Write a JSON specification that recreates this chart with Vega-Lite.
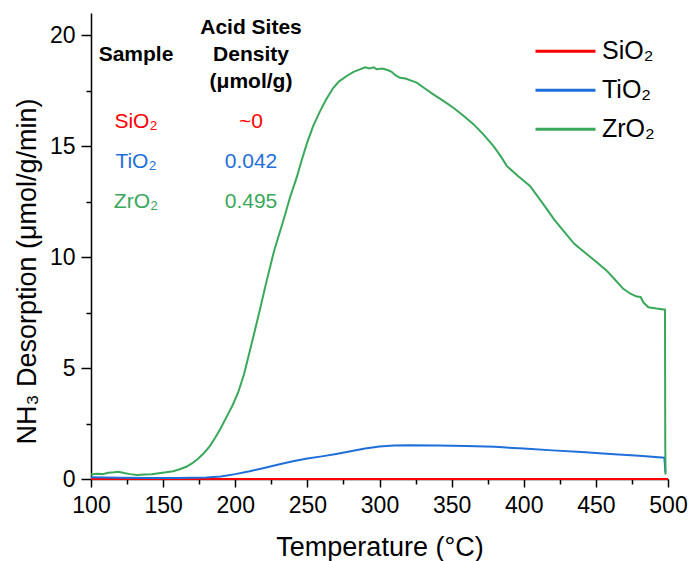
{
  "$schema": "https://vega.github.io/schema/vega-lite/v6.json",
  "width": 577,
  "height": 466,
  "autosize": "none",
  "padding": {"left": 91, "top": 13, "right": 21, "bottom": 82},
  "background": "white",
  "config": {
    "view": {"stroke": null},
    "font": "Liberation Sans",
    "axis": {
      "grid": false,
      "domainColor": "black",
      "domainWidth": 1.5,
      "tickColor": "black",
      "tickWidth": 1.5,
      "labelColor": "black",
      "labelFont": "Liberation Sans",
      "labelFontSize": 23,
      "titleColor": "black",
      "titleFont": "Liberation Sans",
      "titleFontWeight": "normal",
      "labelOverlap": false,
      "labelFlush": false
    }
  },
  "datasets": {
    "tpd": [
      {"sample": "SiO₂", "T": 100, "v": 0},
      {"sample": "SiO₂", "T": 300, "v": 0},
      {"sample": "SiO₂", "T": 500, "v": 0},

      {"sample": "TiO₂", "T": 100, "v": 0.08},
      {"sample": "TiO₂", "T": 120, "v": 0.06},
      {"sample": "TiO₂", "T": 140, "v": 0.05},
      {"sample": "TiO₂", "T": 160, "v": 0.05},
      {"sample": "TiO₂", "T": 180, "v": 0.07},
      {"sample": "TiO₂", "T": 190, "v": 0.11},
      {"sample": "TiO₂", "T": 200, "v": 0.22},
      {"sample": "TiO₂", "T": 210, "v": 0.35},
      {"sample": "TiO₂", "T": 220, "v": 0.5},
      {"sample": "TiO₂", "T": 230, "v": 0.65},
      {"sample": "TiO₂", "T": 240, "v": 0.8},
      {"sample": "TiO₂", "T": 250, "v": 0.92},
      {"sample": "TiO₂", "T": 260, "v": 1.02},
      {"sample": "TiO₂", "T": 270, "v": 1.13},
      {"sample": "TiO₂", "T": 280, "v": 1.25},
      {"sample": "TiO₂", "T": 290, "v": 1.37},
      {"sample": "TiO₂", "T": 300, "v": 1.46},
      {"sample": "TiO₂", "T": 310, "v": 1.51},
      {"sample": "TiO₂", "T": 320, "v": 1.52},
      {"sample": "TiO₂", "T": 340, "v": 1.51},
      {"sample": "TiO₂", "T": 360, "v": 1.49},
      {"sample": "TiO₂", "T": 380, "v": 1.45},
      {"sample": "TiO₂", "T": 400, "v": 1.37},
      {"sample": "TiO₂", "T": 420, "v": 1.29},
      {"sample": "TiO₂", "T": 440, "v": 1.22},
      {"sample": "TiO₂", "T": 460, "v": 1.13},
      {"sample": "TiO₂", "T": 480, "v": 1.05},
      {"sample": "TiO₂", "T": 497.5, "v": 0.96},
      {"sample": "TiO₂", "T": 498.2, "v": 0.3},

      {"sample": "ZrO₂", "T": 100, "v": 0.2},
      {"sample": "ZrO₂", "T": 104, "v": 0.24},
      {"sample": "ZrO₂", "T": 108, "v": 0.22},
      {"sample": "ZrO₂", "T": 112, "v": 0.28},
      {"sample": "ZrO₂", "T": 116, "v": 0.3},
      {"sample": "ZrO₂", "T": 119, "v": 0.33},
      {"sample": "ZrO₂", "T": 123, "v": 0.27},
      {"sample": "ZrO₂", "T": 127, "v": 0.22},
      {"sample": "ZrO₂", "T": 132, "v": 0.18},
      {"sample": "ZrO₂", "T": 137, "v": 0.2},
      {"sample": "ZrO₂", "T": 142, "v": 0.21},
      {"sample": "ZrO₂", "T": 147, "v": 0.26},
      {"sample": "ZrO₂", "T": 152, "v": 0.3},
      {"sample": "ZrO₂", "T": 157, "v": 0.35},
      {"sample": "ZrO₂", "T": 162, "v": 0.45},
      {"sample": "ZrO₂", "T": 166, "v": 0.55},
      {"sample": "ZrO₂", "T": 170, "v": 0.7},
      {"sample": "ZrO₂", "T": 174, "v": 0.9},
      {"sample": "ZrO₂", "T": 178, "v": 1.15},
      {"sample": "ZrO₂", "T": 182, "v": 1.45},
      {"sample": "ZrO₂", "T": 186, "v": 1.85},
      {"sample": "ZrO₂", "T": 190, "v": 2.3},
      {"sample": "ZrO₂", "T": 194, "v": 2.8},
      {"sample": "ZrO₂", "T": 198, "v": 3.3},
      {"sample": "ZrO₂", "T": 202, "v": 3.9},
      {"sample": "ZrO₂", "T": 206, "v": 4.7},
      {"sample": "ZrO₂", "T": 212.5, "v": 6.4},
      {"sample": "ZrO₂", "T": 217, "v": 7.6},
      {"sample": "ZrO₂", "T": 221.8, "v": 8.94},
      {"sample": "ZrO₂", "T": 227, "v": 10.3},
      {"sample": "ZrO₂", "T": 233.3, "v": 11.64},
      {"sample": "ZrO₂", "T": 238, "v": 12.7},
      {"sample": "ZrO₂", "T": 242.6, "v": 13.59},
      {"sample": "ZrO₂", "T": 246, "v": 14.35},
      {"sample": "ZrO₂", "T": 249.5, "v": 15.09},
      {"sample": "ZrO₂", "T": 254, "v": 15.9},
      {"sample": "ZrO₂", "T": 258.8, "v": 16.58},
      {"sample": "ZrO₂", "T": 263, "v": 17.1},
      {"sample": "ZrO₂", "T": 268, "v": 17.63},
      {"sample": "ZrO₂", "T": 272, "v": 17.92},
      {"sample": "ZrO₂", "T": 277.3, "v": 18.16},
      {"sample": "ZrO₂", "T": 282, "v": 18.35},
      {"sample": "ZrO₂", "T": 286.5, "v": 18.46},
      {"sample": "ZrO₂", "T": 290, "v": 18.55},
      {"sample": "ZrO₂", "T": 293, "v": 18.5},
      {"sample": "ZrO₂", "T": 296, "v": 18.55},
      {"sample": "ZrO₂", "T": 298, "v": 18.47},
      {"sample": "ZrO₂", "T": 302, "v": 18.5},
      {"sample": "ZrO₂", "T": 306, "v": 18.42},
      {"sample": "ZrO₂", "T": 308.4, "v": 18.35},
      {"sample": "ZrO₂", "T": 311, "v": 18.2},
      {"sample": "ZrO₂", "T": 314.2, "v": 18.08},
      {"sample": "ZrO₂", "T": 318, "v": 18.05},
      {"sample": "ZrO₂", "T": 322, "v": 17.95},
      {"sample": "ZrO₂", "T": 325.8, "v": 17.86},
      {"sample": "ZrO₂", "T": 331, "v": 17.62},
      {"sample": "ZrO₂", "T": 337.3, "v": 17.33},
      {"sample": "ZrO₂", "T": 344, "v": 17.05},
      {"sample": "ZrO₂", "T": 351.2, "v": 16.73},
      {"sample": "ZrO₂", "T": 358, "v": 16.38},
      {"sample": "ZrO₂", "T": 365.1, "v": 15.99},
      {"sample": "ZrO₂", "T": 372, "v": 15.53},
      {"sample": "ZrO₂", "T": 378.9, "v": 15.01},
      {"sample": "ZrO₂", "T": 384, "v": 14.55},
      {"sample": "ZrO₂", "T": 388.2, "v": 14.11},
      {"sample": "ZrO₂", "T": 396, "v": 13.65},
      {"sample": "ZrO₂", "T": 404.3, "v": 13.21},
      {"sample": "ZrO₂", "T": 410, "v": 12.7},
      {"sample": "ZrO₂", "T": 415.9, "v": 12.17},
      {"sample": "ZrO₂", "T": 421, "v": 11.7},
      {"sample": "ZrO₂", "T": 427.4, "v": 11.19},
      {"sample": "ZrO₂", "T": 435, "v": 10.6},
      {"sample": "ZrO₂", "T": 443.6, "v": 10.14},
      {"sample": "ZrO₂", "T": 450, "v": 9.8},
      {"sample": "ZrO₂", "T": 457.5, "v": 9.39},
      {"sample": "ZrO₂", "T": 463, "v": 9.0},
      {"sample": "ZrO₂", "T": 469, "v": 8.57},
      {"sample": "ZrO₂", "T": 474, "v": 8.35},
      {"sample": "ZrO₂", "T": 478.3, "v": 8.22},
      {"sample": "ZrO₂", "T": 481, "v": 8.2},
      {"sample": "ZrO₂", "T": 483, "v": 7.95},
      {"sample": "ZrO₂", "T": 486.4, "v": 7.74},
      {"sample": "ZrO₂", "T": 492, "v": 7.68},
      {"sample": "ZrO₂", "T": 497.9, "v": 7.63},
      {"sample": "ZrO₂", "T": 498.1, "v": 1.5},
      {"sample": "ZrO₂", "T": 498.3, "v": 0.2}
    ],
    "acidity": [
      {"sample": "SiO₂", "density": "~0"},
      {"sample": "TiO₂", "density": "0.042"},
      {"sample": "ZrO₂", "density": "0.495"}
    ],
    "acidityHeader": [
      {"column": "sample", "sample": "header", "head": "\nSample"},
      {"column": "density", "sample": "header", "head": "Acid Sites\nDensity\n(μmol/g)"}
    ]
  },
  "resolve": {"scale": {"x": "independent", "y": "independent"}},
  "layer": [
    {
      "data": {"name": "tpd"},
      "mark": {"type": "line", "strokeWidth": 2},
      "encoding": {
        "x": {
          "field": "T",
          "type": "quantitative",
          "scale": {"domain": [100, 500], "nice": false, "zero": false},
          "axis": {
            "title": "Temperature (°C)",
            "titleFontSize": 27,
            "titlePadding": 17,
            "values": [100, 125, 150, 175, 200, 225, 250, 275, 300, 325, 350, 375, 400, 425, 450, 475, 500],
            "labelExpr": "datum.value % 50 === 0 ? datum.label : ''",
            "tickSize": {"condition": {"test": "datum.value % 50 === 0", "value": 8}, "value": 5},
            "labelPadding": 7
          }
        },
        "y": {
          "field": "v",
          "type": "quantitative",
          "scale": {"domain": [0, 21], "nice": false},
          "axis": {
            "title": "NH₃ Desorption (μmol/g/min)",
            "titleFontSize": 27,
            "titlePadding": 8,
            "titleY": 258,
            "values": [0, 2.5, 5, 7.5, 10, 12.5, 15, 17.5, 20],
            "labelExpr": "datum.value % 5 === 0 ? datum.label : ''",
            "tickSize": {"condition": {"test": "datum.value % 5 === 0", "value": 10}, "value": 5},
            "labelPadding": 6
          }
        },
        "color": {
          "field": "sample",
          "type": "nominal",
          "scale": {"domain": ["SiO₂", "TiO₂", "ZrO₂"], "range": ["#FF0000", "#1F6FDA", "#39A85B"]},
          "legend": {
            "title": null,
            "orient": "none",
            "legendX": 443,
            "legendY": 19,
            "symbolType": "stroke",
            "symbolSize": 3600,
            "symbolStrokeWidth": 3,
            "labelFontSize": 25,
            "labelFont": "Liberation Sans",
            "labelColor": "black",
            "clipHeight": 38.5,
            "rowPadding": 0,
            "labelOffset": 5,
            "padding": 0
          }
        }
      }
    },
    {
      "resolve": {"scale": {"y": "shared", "x": "shared"}},
      "layer": [
        {
          "data": {"name": "acidity"},
          "transform": [{"fold": ["sample", "density"], "as": ["column", "cell"]}],
          "mark": {"type": "text", "fontSize": 21, "font": "Liberation Sans", "baseline": "middle"},
          "encoding": {
            "x": {"field": "column", "type": "nominal", "scale": {"type": "point", "domain": ["sample", "density"], "range": [45, 160], "padding": 0}, "axis": null},
            "y": {"field": "sample", "type": "nominal", "scale": {"type": "point", "domain": ["header", "SiO₂", "TiO₂", "ZrO₂"], "range": [69, 189], "padding": 0}, "axis": null},
            "text": {"field": "cell"},
            "color": {"field": "sample", "type": "nominal"}
          }
        },
        {
          "data": {"name": "acidityHeader"},
          "mark": {"type": "text", "fontSize": 21, "fontWeight": "bold", "font": "Liberation Sans", "baseline": "middle", "lineBreak": "\n", "lineHeight": 27, "dy": -54, "color": "black"},
          "encoding": {
            "x": {"field": "column", "type": "nominal", "axis": null},
            "y": {"field": "sample", "type": "nominal", "axis": null},
            "text": {"field": "head"}
          }
        }
      ]
    }
  ]
}
